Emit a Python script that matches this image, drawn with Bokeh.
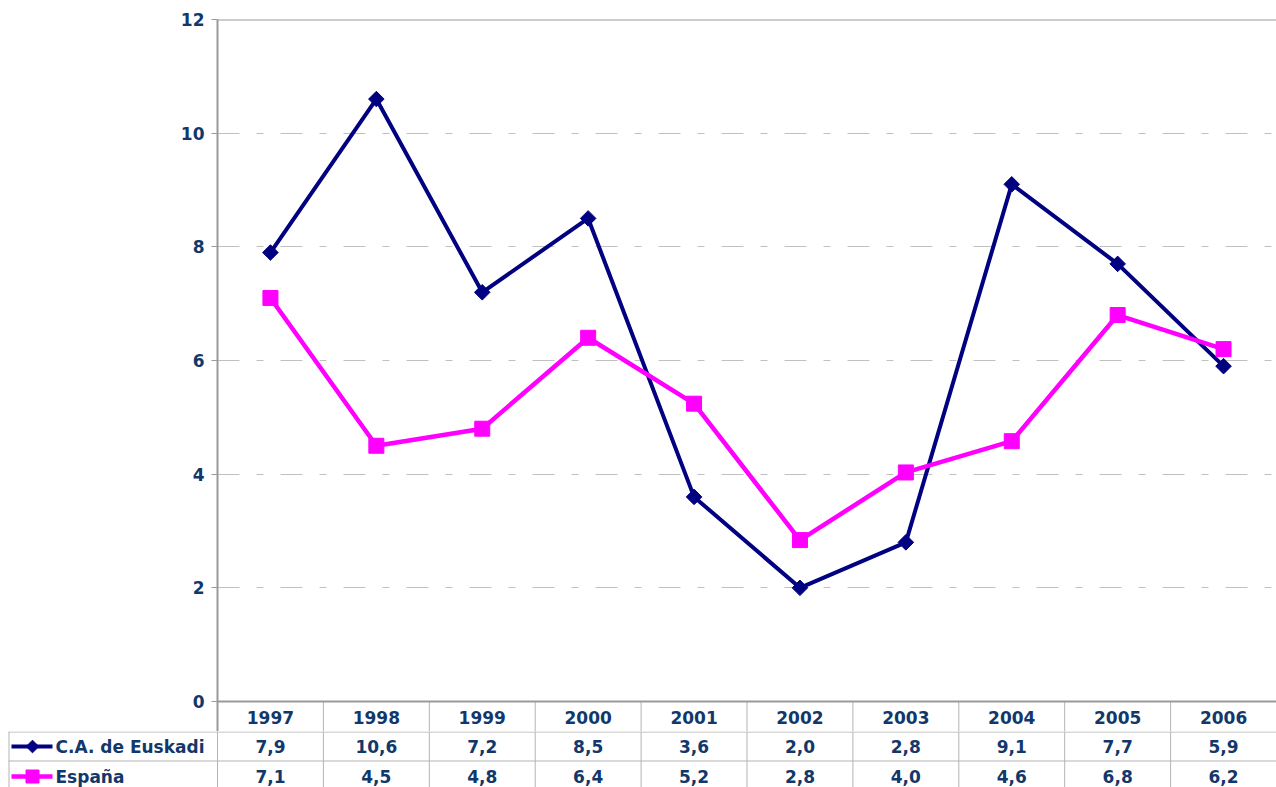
import numpy as np
from bokeh.plotting import figure
from bokeh.models import Range1d, FixedTicker, ColumnDataSource, Span
from bokeh.layouts import column
from bokeh.embed import file_html
from bokeh.resources import INLINE
from bokeh.core.properties import value

# ---------------- data ----------------
years = ["1997", "1998", "1999", "2000", "2001", "2002", "2003", "2004", "2005", "2006"]
euskadi = [7.9, 10.6, 7.2, 8.5, 3.6, 2.0, 2.8, 9.1, 7.7, 5.9]
espana = [7.1, 4.5, 4.8, 6.4, 5.24, 2.84, 4.03, 4.58, 6.8, 6.2]
series_names = ["C.A. de Euskadi", "España"]
y_ticks = [0, 2, 4, 6, 8, 10, 12]
grid_ticks = [2, 4, 6, 8, 10]

# ---------------- style ----------------
NAVY = "#000080"
MAG = "#FF00FF"
TXT = "#12386b"
AX = "#9a9a9a"
GRID = "#c0c0c0"
TBL = "#b4b4b4"
FONT = "DejaVu Sans"
FS = "17px"

W = 1276
LEFT = 217            # frame left offset inside the figure
TOP = 19
PLOT_PX = 682         # pixels from 0 to 12
HEADER_PX = 30        # header row of the data table
CH = TOP + PLOT_PX + HEADER_PX
TH = 787 - CH
n = len(years)
col_px = (W - LEFT) / n
ymax = 12
ystart = -HEADER_PX * ymax / PLOT_PX

def fmt(v):
    return f"{v:.1f}".replace(".", ",")

xs = [i + 0.5 for i in range(n)]

# ---------------- chart ----------------
p = figure(width=W, height=CH, output_backend="svg", toolbar_location=None,
           x_range=Range1d(0, n), y_range=Range1d(ystart, ymax),
           x_axis_location=None, title=None,
           min_border_left=LEFT, min_border_right=0, min_border_top=TOP,
           min_border_bottom=0)
p.frame_align = False
p.background_fill_color = "white"
p.border_fill_color = "white"
p.outline_line_color = None
p.xgrid.visible = False
p.ygrid.ticker = FixedTicker(ticks=grid_ticks)
p.ygrid.grid_line_color = GRID
p.ygrid.grid_line_dash = "22 17 7 17"
p.ygrid.grid_line_width = 1

ya = p.yaxis[0]
ya.ticker = FixedTicker(ticks=y_ticks)
ya.axis_line_color = AX
ya.axis_line_width = 2
ya.major_tick_line_color = AX
ya.major_tick_out = 6
ya.major_tick_in = 0
ya.minor_tick_line_color = None
ya.major_label_standoff = 7
ya.major_label_text_font = FONT
ya.major_label_text_font_style = "bold"
ya.major_label_text_font_size = FS
ya.major_label_text_color = TXT

# top border and line at 0 (bottom of plot area / top of table)
p.add_layout(Span(location=ymax, dimension="width", line_color=AX, line_width=2))
p.add_layout(Span(location=0, dimension="width", line_color=AX, line_width=2))

# header row separators and years
p.segment(x0=list(range(n + 1)), y0=[ystart] * (n + 1), x1=list(range(n + 1)),
          y1=[0] * (n + 1), line_color=TBL, line_width=1)
p.text(x=xs, y=[ystart * 16 / HEADER_PX] * n, text=years, text_align="center",
       text_baseline="middle", text_font=value(FONT), text_font_style="bold",
       text_font_size=FS, text_color=TXT)

src_e = ColumnDataSource(dict(x=xs, y=euskadi))
src_s = ColumnDataSource(dict(x=xs, y=espana))
p.line("x", "y", source=src_e, line_color=NAVY, line_width=4)
p.scatter("x", "y", source=src_e, marker="square", size=11, angle=np.pi / 4,
          fill_color=NAVY, line_color=NAVY)
p.line("x", "y", source=src_s, line_color=MAG, line_width=4.5)
p.scatter("x", "y", source=src_s, marker="square", size=15,
          fill_color=MAG, line_color=MAG)

# ---------------- data table ----------------
x_left = -LEFT / col_px
def px(page_x):
    return (page_x - LEFT) / col_px

t = figure(width=W, height=TH, output_backend="svg", toolbar_location=None,
           x_range=Range1d(x_left, n), y_range=Range1d(TH, 0),
           x_axis_location=None, y_axis_location=None, title=None,
           min_border=0, min_border_left=0, min_border_right=0,
           min_border_top=0, min_border_bottom=0)
t.frame_align = False
t.outline_line_color = None
t.xgrid.visible = False
t.ygrid.visible = False
t.background_fill_color = "white"
t.border_fill_color = "white"

row_y = [15, 45]
# horizontal lines
t.segment(x0=[px(8), px(8)], y0=[0.5, 29.5], x1=[n, n], y1=[0.5, 29.5],
          line_color=TBL, line_width=1)
# vertical lines
vx = [px(8.5)] + list(range(n + 1))
t.segment(x0=vx, y0=[0] * len(vx), x1=vx, y1=[TH] * len(vx),
          line_color=TBL, line_width=1)

for vals, yy in ((euskadi, row_y[0]), (espana, row_y[1])):
    t.text(x=xs, y=[yy] * n, text=[fmt(v) for v in vals], text_align="center",
           text_baseline="middle", text_font=value(FONT), text_font_style="bold",
           text_font_size=FS, text_color=TXT)

# legend keys
t.line(x=[px(11), px(52)], y=[row_y[0], row_y[0]], line_color=NAVY, line_width=4)
t.scatter(x=[px(32)], y=[row_y[0]], marker="square", size=9, angle=np.pi / 4,
          fill_color=NAVY, line_color=NAVY)
t.line(x=[px(11), px(52)], y=[row_y[1], row_y[1]], line_color=MAG, line_width=4.5)
t.scatter(x=[px(32)], y=[row_y[1]], marker="square", size=13,
          fill_color=MAG, line_color=MAG)
t.text(x=[px(55), px(55)], y=row_y, text=series_names, text_align="left",
       text_baseline="middle", text_font=value(FONT), text_font_style="bold",
       text_font_size=FS, text_color=TXT)

layout = column(p, t, spacing=0)
open("out.html", "w").write(file_html(layout, INLINE))
